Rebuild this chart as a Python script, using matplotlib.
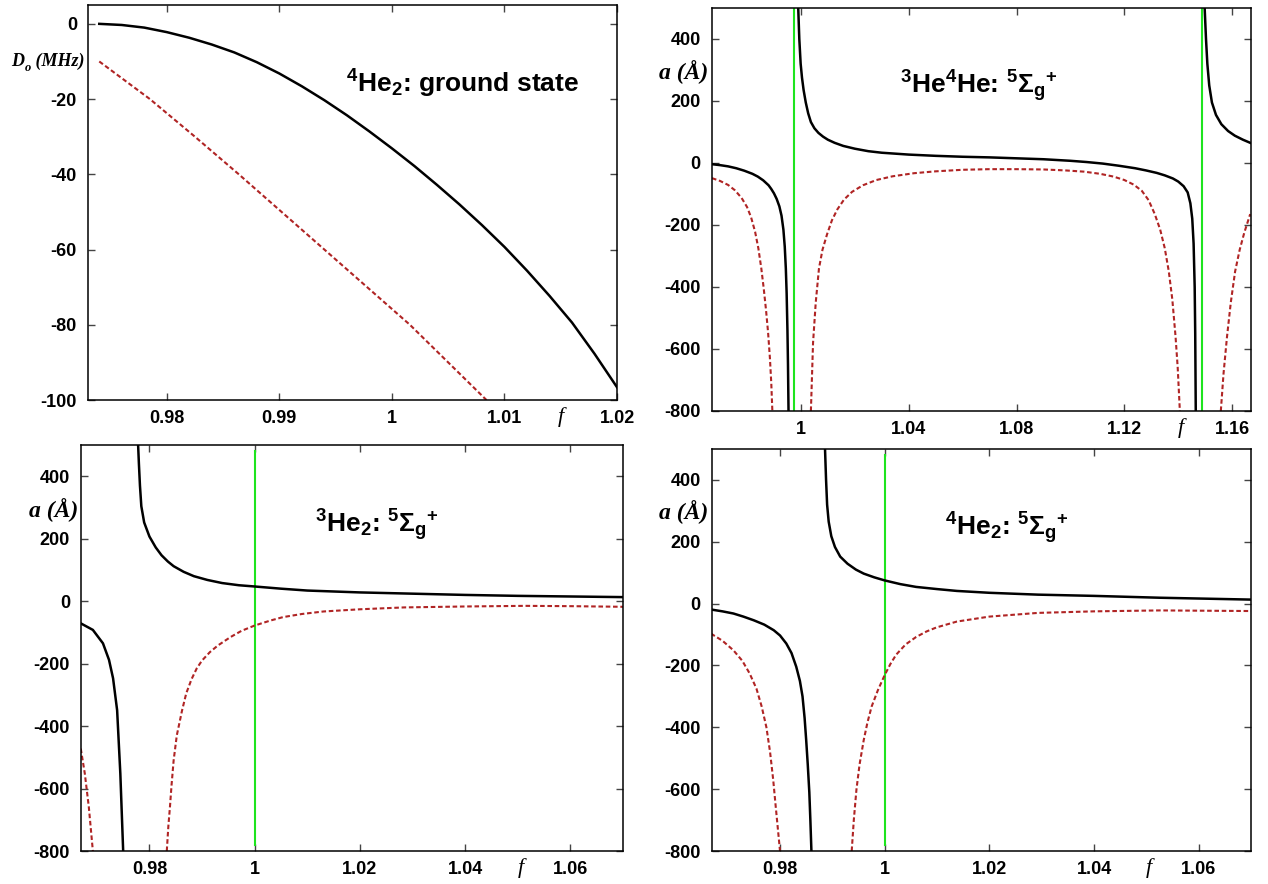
import matplotlib
matplotlib.use("Agg")
import matplotlib.pyplot as plt
from matplotlib.ticker import FixedLocator, FuncFormatter

plt.rcParams["font.family"] = ["Liberation Sans", "DejaVu Sans"]
plt.rcParams["font.weight"] = "bold"
plt.rcParams["axes.unicode_minus"] = False
plt.rcParams["mathtext.fontset"] = "custom"
plt.rcParams["mathtext.rm"] = "Liberation Sans:bold"
plt.rcParams["mathtext.it"] = "Liberation Sans:bold"
plt.rcParams["mathtext.bf"] = "Liberation Sans:bold"

# ground state of 4He2: dissociation energy vs scaling factor f
gs_f_black = [0.974, 0.976, 0.978, 0.980, 0.982, 0.984, 0.986, 0.988, 0.990, 0.992, 0.994,
              0.996, 0.998, 1.000, 1.002, 1.004, 1.006, 1.008, 1.010, 1.012, 1.014, 1.016,
              1.018, 1.020]
gs_D_black = [0, -0.3, -1.0, -2.2, -3.7, -5.5, -7.6, -10.2, -13.2, -16.6, -20.3,
              -24.3, -28.6, -33.1, -37.8, -42.8, -48.0, -53.5, -59.3, -65.6, -72.3, -79.4,
              -87.7, -96.6]
gs_f_red = [0.974, 0.9785, 0.9825, 0.9864, 0.9902, 0.9940, 0.9978, 1.0016, 1.0050, 1.0084]
gs_D_red = [-10, -20, -30, -40, -50, -60, -70, -80, -90, -100]

# 3He4He quintet scattering length (each tuple = one branch between poles)
he34_black = [
    ([0.967, 0.970, 0.973, 0.976, 0.979, 0.982, 0.984, 0.986, 0.988, 0.989, 0.990, 0.991,
      0.992, 0.9928, 0.9935, 0.9940, 0.9944, 0.9947, 0.9950, 0.9952, 0.9954],
     [-4, -7, -11, -17, -25, -35, -44, -56, -72, -84, -98, -116,
      -140, -170, -215, -270, -340, -420, -540, -650, -800]),
    ([0.9990, 0.9994, 0.9999, 1.0004, 1.0010, 1.0018, 1.0027, 1.0037, 1.0050, 1.0065, 1.0082,
      1.0100, 1.0125, 1.0157, 1.020, 1.025, 1.030, 1.040, 1.050, 1.060, 1.070, 1.080, 1.090,
      1.100, 1.106, 1.112, 1.118, 1.124, 1.128, 1.132, 1.135, 1.138, 1.140, 1.142, 1.1435,
      1.1445, 1.1452, 1.1457, 1.1461, 1.1463, 1.1465],
     [500, 400, 320, 275, 235, 195, 160, 132, 112, 97, 85,
      75, 65, 55, 46, 38, 33, 27, 23, 20, 18, 15, 12,
      7, 3, -2, -9, -17, -24, -32, -40, -50, -60, -75, -95,
      -130, -180, -260, -400, -550, -800]),
    ([1.1498, 1.1503, 1.1508, 1.1515, 1.1525, 1.1540, 1.1560, 1.1585, 1.1610, 1.1640, 1.1667],
     [500, 400, 320, 250, 195, 155, 125, 103, 88, 75, 65]),
]
he34_red = [
    ([0.967, 0.970, 0.973, 0.9755, 0.978, 0.980, 0.9815, 0.983, 0.9842, 0.9853, 0.9862,
      0.9870, 0.9878, 0.9885, 0.9890, 0.9894],
     [-49, -58, -71, -88, -113, -142, -175, -222, -275, -340, -405,
      -470, -545, -630, -710, -800]),
    ([1.0037, 1.0045, 1.0055, 1.0067, 1.0080, 1.0097, 1.0115, 1.0135, 1.016, 1.019, 1.023,
      1.028, 1.034, 1.042, 1.050, 1.060, 1.070, 1.080, 1.090, 1.098, 1.105, 1.111, 1.116,
      1.120, 1.1235, 1.1265, 1.129, 1.1313, 1.1333, 1.135, 1.1365, 1.1378, 1.139, 1.1398,
      1.1406],
     [-800, -580, -450, -340, -280, -230, -185, -150, -118, -93, -72,
      -55, -43, -33, -27, -22, -20, -20, -21, -24, -28, -35, -44,
      -55, -70, -90, -120, -165, -215, -275, -350, -440, -560, -660,
      -800]),
    ([1.1558, 1.1568, 1.1581, 1.1595, 1.1611, 1.1628, 1.1645, 1.1667],
     [-800, -680, -560, -450, -350, -280, -225, -165]),
]
he34_green = [0.99745, 1.1489]

# 3He2 quintet
he33_black = [
    ([0.96695, 0.96925, 0.97117, 0.97232, 0.97309, 0.97386, 0.97447, 0.97501],
     [-71, -92, -135, -188, -247, -349, -552, -800]),
    ([0.97785, 0.9780, 0.9782, 0.97846, 0.9790, 0.9800, 0.9812, 0.9823, 0.9835, 0.9846,
      0.9865, 0.98845, 0.991, 0.99382, 0.997, 1.0, 1.005, 1.01, 1.02, 1.03, 1.04, 1.05,
      1.06, 1.07],
     [500, 440, 370, 304, 252, 207, 172, 147, 127, 112,
      94, 80, 68, 58, 51, 47, 40, 34, 28, 24, 20, 17,
      15, 13]),
]
he33_red = [
    ([0.96695, 0.96772, 0.96848, 0.96925],
     [-472, -552, -659, -800]),
    ([0.9833, 0.9836, 0.9839, 0.9842, 0.9846, 0.9852, 0.9862, 0.9870, 0.9880, 0.9890, 0.9900,
      0.9915, 0.9930, 0.9954, 0.9975, 1.0, 1.003, 1.0054, 1.009, 1.0131, 1.02, 1.0284, 1.04,
      1.0514, 1.06, 1.07],
     [-800, -720, -659, -590, -510, -430, -350, -295, -250, -215, -190,
      -163, -142, -115, -95, -78, -62, -51, -41, -33, -26, -20, -17,
      -15, -16, -18]),
]

# 4He2 quintet
he44_black = [
    ([0.9668, 0.969, 0.9711, 0.973, 0.975, 0.977, 0.9788, 0.980, 0.9812, 0.9822, 0.9831,
      0.9838, 0.9843, 0.9847, 0.985, 0.9853, 0.9856, 0.9858, 0.986],
     [-19, -25, -32, -42, -54, -68, -86, -103, -129, -160, -204,
      -250, -300, -370, -441, -520, -610, -700, -800]),
    ([0.9886, 0.9888, 0.9890, 0.9893, 0.9898, 0.9905, 0.9915, 0.9929, 0.9945, 0.996, 0.998,
      1.0, 1.003, 1.006, 1.010, 1.0138, 1.02, 1.0293, 1.04, 1.0526, 1.07],
     [500, 400, 320, 265, 218, 183, 152, 129, 110, 97, 85,
      75, 63, 54, 47, 41, 35, 29, 25, 19, 13]),
]
he44_red = [
    ([0.9668, 0.969, 0.9711, 0.9728, 0.9742, 0.9755, 0.9765, 0.9774, 0.9781, 0.9787, 0.9792,
      0.9796, 0.980],
     [-97, -120, -151, -185, -226, -275, -333, -400, -480, -570, -660,
      -730, -800]),
    ([0.9937, 0.9941, 0.9946, 0.9952, 0.996, 0.9967, 0.9975, 0.9987, 1.0, 1.0011, 1.0022,
      1.004, 1.006, 1.008, 1.0099, 1.0138, 1.02, 1.0293, 1.04, 1.0526, 1.07],
     [-800, -700, -602, -520, -441, -385, -333, -280, -231, -195, -165,
      -132, -108, -90, -77, -58, -42, -30, -25, -22, -24]),
]
green_f = 1.0
green_lo, green_hi = -782, 480

gs_xticks = [0.98, 0.99, 1.0, 1.01, 1.02]
gs_yticks = [0, -20, -40, -60, -80, -100]
he34_xticks = [1.0, 1.04, 1.08, 1.12, 1.16]
he_xticks = [0.98, 1.0, 1.02, 1.04, 1.06]
a_yticks = [400, 200, 0, -200, -400, -600, -800]

BLACK = "black"
RED = "#b02424"
GREEN = "#1ee41e"
SERIF = ["Liberation Serif", "DejaVu Serif"]


def style_axes(ax, xticks, yticks):
    ax.xaxis.set_major_locator(FixedLocator(xticks))
    ax.yaxis.set_major_locator(FixedLocator(yticks))
    fmt = FuncFormatter(lambda v, _: f"{v:g}")
    ax.xaxis.set_major_formatter(fmt)
    ax.yaxis.set_major_formatter(fmt)
    ax.tick_params(direction="in", length=5, width=1, color="#444444",
                   top=True, right=True, labelsize=13)
    ax.tick_params(axis="x", pad=7.5)
    ax.tick_params(axis="y", pad=8)
    for sp in ax.spines.values():
        sp.set_linewidth(1.1)


def draw_branches(ax, branches, color, dashed=False):
    for fx, fy in branches:
        if dashed:
            ax.plot(fx, fy, color=color, lw=1.5, dashes=(2.2, 1.3))
        else:
            ax.plot(fx, fy, color=color, lw=1.8)


def f_label(ax, x):
    ax.text(x, -0.042, "f", transform=ax.transAxes, ha="center", va="center",
            family=SERIF, style="italic", weight="normal", fontsize=16)


def a_label(ax, y):
    ax.text(-0.006, y, "a (Å)", transform=ax.transAxes, ha="right", va="center",
            family=SERIF, style="italic", weight="bold", fontsize=17)


fig = plt.figure(figsize=(12.68, 8.84), dpi=100)

# ground state
ax1 = fig.add_axes([0.0694, 0.5475, 0.4172, 0.4468])
ax1.plot(gs_f_black, gs_D_black, color=BLACK, lw=1.8)
ax1.plot(gs_f_red, gs_D_red, color=RED, lw=1.5, dashes=(2.2, 1.3))
ax1.set_xlim(0.973, 1.02)
ax1.set_ylim(-100, 5)
style_axes(ax1, gs_xticks, gs_yticks)
ax1.text(0.488, 0.778, r"$^{4}$He$_{2}$: ground state", transform=ax1.transAxes,
         ha="left", va="baseline", fontsize=19, weight="bold")
t_d = ax1.text(-0.1456, 0.835, "D", transform=ax1.transAxes, ha="left", va="bottom",
               family=SERIF, style="italic", weight="bold", fontsize=13)
t_o = ax1.annotate("o", xy=(1, 0), xycoords=t_d, xytext=(0.5, -2.5),
                   textcoords="offset points", ha="left", va="bottom",
                   family=SERIF, style="italic", weight="bold", fontsize=9)
ax1.annotate(" (MHz)", xy=(1, 0), xycoords=(t_o, t_d), ha="left", va="bottom",
             family=SERIF, style="italic", weight="bold", fontsize=13)
f_label(ax1, 0.894)

# 3He4He
ax2 = fig.add_axes([0.5615, 0.5351, 0.4251, 0.4559])
for gx in he34_green:
    ax2.axvline(gx, color=GREEN, lw=1.5)
draw_branches(ax2, he34_black, BLACK)
draw_branches(ax2, he34_red, RED, dashed=True)
ax2.set_xlim(0.967, 1.167)
ax2.set_ylim(-800, 500)
style_axes(ax2, he34_xticks, a_yticks)
ax2.text(0.349, 0.787, r"$^{3}$He$^{4}$He: $^{5}\Sigma_{g}{}^{+}$", transform=ax2.transAxes,
         ha="left", va="baseline", fontsize=19, weight="bold")
a_label(ax2, 0.841)
f_label(ax2, 0.870)

# 3He2
ax3 = fig.add_axes([0.0639, 0.0373, 0.4274, 0.4593])
ax3.plot([green_f, green_f], [green_lo, green_hi], color=GREEN, lw=1.5)
draw_branches(ax3, he33_black, BLACK)
draw_branches(ax3, he33_red, RED, dashed=True)
ax3.set_xlim(0.967, 1.07)
ax3.set_ylim(-800, 500)
style_axes(ax3, he_xticks, a_yticks)
ax3.text(0.432, 0.784, r"$^{3}$He$_{2}$: $^{5}\Sigma_{g}{}^{+}$", transform=ax3.transAxes,
         ha="left", va="baseline", fontsize=19, weight="bold")
a_label(ax3, 0.840)
f_label(ax3, 0.812)

# 4He2
ax4 = fig.add_axes([0.5615, 0.0373, 0.4251, 0.4548])
ax4.plot([green_f, green_f], [green_lo, green_hi], color=GREEN, lw=1.5)
draw_branches(ax4, he44_black, BLACK)
draw_branches(ax4, he44_red, RED, dashed=True)
ax4.set_xlim(0.967, 1.07)
ax4.set_ylim(-800, 500)
style_axes(ax4, he_xticks, a_yticks)
ax4.text(0.432, 0.786, r"$^{4}$He$_{2}$: $^{5}\Sigma_{g}{}^{+}$", transform=ax4.transAxes,
         ha="left", va="baseline", fontsize=19, weight="bold")
a_label(ax4, 0.843)
f_label(ax4, 0.811)

fig.savefig("out.png", dpi=100)
